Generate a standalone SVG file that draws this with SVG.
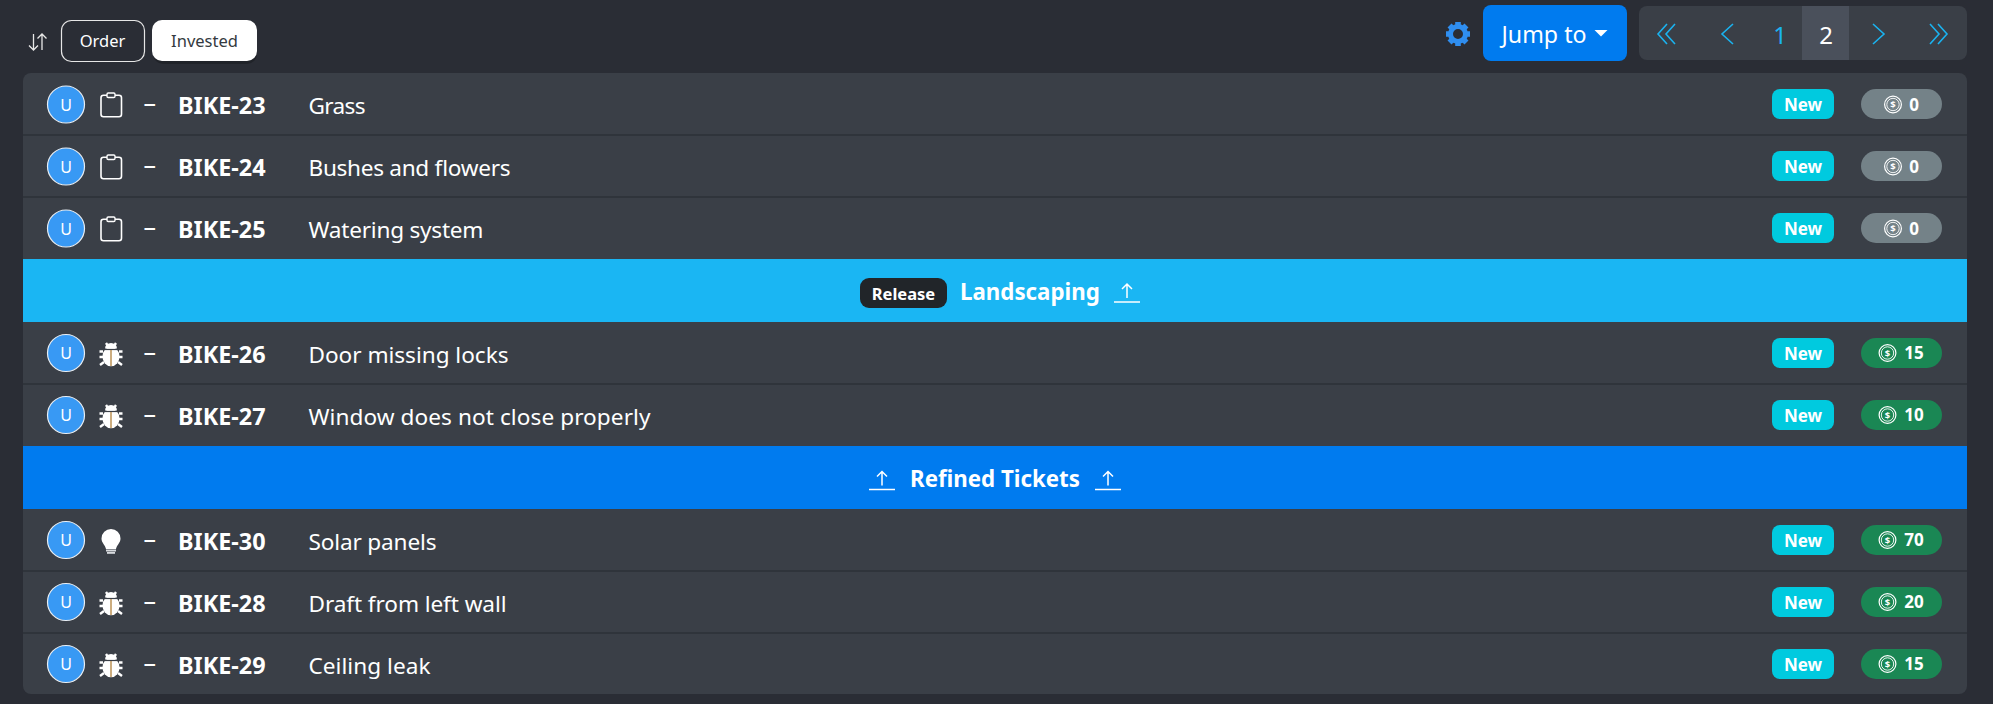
<svg xmlns="http://www.w3.org/2000/svg" xmlns:xlink="http://www.w3.org/1999/xlink" width="1993" height="704" viewBox="0 0 1993 704">
<style>
text{font-family:"Noto Sans","Open Sans","Liberation Sans",sans-serif;fill:#fff}
.av{fill:#3899f4;stroke:#e8eef4;stroke-width:1.2}
.avt{font-size:16px;text-anchor:middle}
.dash{font-size:25px}
.key{font-size:23.400px;font-weight:700}
.title{font-size:22.600px}
.new{fill:#00cadf}
.newt{font-size:17px;font-weight:700;text-anchor:middle}
.pts{font-size:17px;font-weight:700;text-anchor:middle}
.sep{fill:#2f343b}
.ban{font-size:22.300px;font-weight:700}
.ul{stroke:#fff;stroke-width:1.5;fill:none}
.blue{stroke:#1ab3f0;stroke-width:1.6;fill:none}
.ic{fill:none;stroke:#fff;stroke-width:1.6}
.grey{fill:#748288}
.green{fill:#1a8754}
</style>
<defs>
<g id="clip"><rect x="-10" y="-9.800" width="20.500" height="21.500" rx="2.500" class="ic"/><rect x="-4" y="-12" width="8" height="4.500" rx="1.200" fill="#3a3f47" stroke="#fff" stroke-width="1.400"/></g>
<g id="bug"><ellipse cx="0" cy="2" rx="8.500" ry="9.800" fill="#fff"/><path d="M-6-6a6 5.500 0 0 1 12 0z" fill="#fff"/><path d="M-5-11.500l2 3M5-11.500l-2 3M-8-3h-3.500M8-3h3.500M-8 2.500h-3.500M8 2.500h3.500M-7 7.500l-4 3M7 7.500l4 3" stroke="#fff" stroke-width="2.400" fill="none"/><path d="M-8-5h16" stroke="#3a3f47" stroke-width="1.200"/><path d="M0-4.500v16" stroke="#b78a4a" stroke-width="1.400"/></g>
<g id="bulb"><path d="M0-11a9.500 9.500 0 0 1 9.500 9.500c0 4.500-3.500 6-4.500 10.500h-10c-1-4.500-4.500-6-4.500-10.500A9.500 9.500 0 0 1 0-11z" fill="#fff"/><rect x="-5" y="9.500" width="10" height="2" fill="#d8dbdf"/><rect x="-4" y="12" width="8" height="1.800" fill="#d8dbdf"/></g>
<g id="coin"><circle r="8.400" fill="none" stroke="#fff" stroke-width="1.200"/><circle r="6.200" fill="none" stroke="#fff" stroke-width="0.900"/><text y="3.500" text-anchor="middle" style="font-size:9.500px;font-weight:700">$</text></g>
<g id="up"><path d="M0 1V-13M-5-8L0-13L5-8" class="ul"/><path d="M-13 5H13" class="ul"/></g>
</defs>
<rect width="1993" height="704" fill="#2a2d35"/>
<g id="toolbar">
<path d="M33.500 34V50M29 45.500L33.500 50L38 45.500M42 50V34M37.500 38.500L42 34L46.500 38.500" fill="none" stroke="#e8e8e8" stroke-width="1.300"/>
<g id="btn-order"><rect x="61.500" y="20.500" width="83" height="41" rx="10" fill="none" stroke="#e6e6e6" stroke-width="1.200"/><text x="102.500" y="47" font-size="16.500" text-anchor="middle">Order</text></g>
<g id="btn-invested"><rect x="153" y="23" width="104" height="41" rx="10" fill="#000" opacity=".22"/><rect x="152" y="20" width="105" height="41" rx="10" fill="#fff"/><text x="204.500" y="47" font-size="16.500" text-anchor="middle" style="fill:#343a40">Invested</text></g>
<g id="gear" transform="translate(1458 34)"><circle r="7.500" fill="none" stroke="#2f8ef0" stroke-width="5"/><path d="M-2.800-12h5.600v4h-5.600zM-2.800 8h5.600v4h-5.600zM-12-2.800v5.600h4v-5.600zM8-2.800v5.600h4v-5.600z" fill="#2f8ef0"/><path d="M-2.800-12h5.600v4h-5.600zM-2.800 8h5.600v4h-5.600zM-12-2.800v5.600h4v-5.600zM8-2.800v5.600h4v-5.600z" fill="#2f8ef0" transform="rotate(45)"/></g>
<g id="jump"><rect x="1483" y="5" width="144" height="56" rx="8" fill="#007bef"/><text x="1501.500" y="43" style="font-size:23.200px">Jump to</text><path d="M1594.500 30h13l-6.500 6.500z" fill="#fff"/></g>
<g id="pager"><rect x="1639" y="6" width="328" height="54" rx="8" fill="#3a3f47"/><rect x="1802" y="6" width="47" height="54" fill="#4a505b"/>
<path class="blue" d="M1667 24l-9 10 9 10M1675 24l-9 10 9 10"/>
<path class="blue" d="M1733 24l-11 10 11 10"/>
<text x="1780" y="44" style="font-size:24px;fill:#1ab3f0" text-anchor="middle">1</text>
<text x="1826" y="44" style="font-size:24px" text-anchor="middle">2</text>
<path class="blue" d="M1873 24l11 10-11 10"/>
<path class="blue" d="M1930 24l9 10-9 10M1938 24l9 10-9 10"/>
</g>
</g>
<g id="panel">
<path d="M23 81a8 8 0 0 1 8-8H1959a8 8 0 0 1 8 8V686a8 8 0 0 1-8 8H31a8 8 0 0 1-8-8z" fill="#3a3f47"/>
<rect class="sep" x="23" y="134" width="1944" height="2"/><rect class="sep" x="23" y="196" width="1944" height="2"/>
<rect class="sep" x="23" y="383" width="1944" height="2"/><rect class="sep" x="23" y="570" width="1944" height="2"/><rect class="sep" x="23" y="632" width="1944" height="2"/>
</g>
<g id="banner-landscaping"><rect x="23" y="259" width="1944" height="63" fill="#1ab6f3"/><rect x="860" y="278" width="87" height="30" rx="9" fill="#212529"/><text x="903.500" y="300" text-anchor="middle" style="font-size:16.500px;font-weight:700">Release</text><text x="960" y="300" class="ban">Landscaping</text><use xlink:href="#up" x="1127" y="297"/></g>
<g id="banner-refined"><rect x="23" y="446" width="1944" height="63" fill="#007bef"/><use xlink:href="#up" x="882" y="484.500"/><text x="910" y="487" class="ban">Refined Tickets</text><use xlink:href="#up" x="1108" y="484.500"/></g>
<g id="row-23"><circle class="av" cx="66" cy="104.500" r="18.500"/><text class="avt" x="66" y="110.500">U</text><use xlink:href="#clip" x="111" y="105"/><text class="dash" x="143.500" y="112">–</text><text class="key" x="178" y="114">BIKE-23</text><text class="title" x="308.500" y="114" textLength="57">Grass</text><rect class="new" x="1772" y="89" width="62" height="30" rx="8"/><text class="newt" x="1803" y="110.500">New</text><rect class="grey" x="1861" y="89" width="81" height="30" rx="15"/><use xlink:href="#coin" x="1893" y="104.500"/><text class="pts" x="1914" y="110.500">0</text></g>
<g id="row-24"><circle class="av" cx="66" cy="166.500" r="18.500"/><text class="avt" x="66" y="172.500">U</text><use xlink:href="#clip" x="111" y="167"/><text class="dash" x="143.500" y="174">–</text><text class="key" x="178" y="176">BIKE-24</text><text class="title" x="308.500" y="176" textLength="202">Bushes and flowers</text><rect class="new" x="1772" y="151" width="62" height="30" rx="8"/><text class="newt" x="1803" y="172.500">New</text><rect class="grey" x="1861" y="151" width="81" height="30" rx="15"/><use xlink:href="#coin" x="1893" y="166.500"/><text class="pts" x="1914" y="172.500">0</text></g>
<g id="row-25"><circle class="av" cx="66" cy="228.500" r="18.500"/><text class="avt" x="66" y="234.500">U</text><use xlink:href="#clip" x="111" y="229"/><text class="dash" x="143.500" y="236">–</text><text class="key" x="178" y="238">BIKE-25</text><text class="title" x="308.500" y="238" textLength="175">Watering system</text><rect class="new" x="1772" y="213" width="62" height="30" rx="8"/><text class="newt" x="1803" y="234.500">New</text><rect class="grey" x="1861" y="213" width="81" height="30" rx="15"/><use xlink:href="#coin" x="1893" y="228.500"/><text class="pts" x="1914" y="234.500">0</text></g>
<g id="row-26"><circle class="av" cx="66" cy="353" r="18.500"/><text class="avt" x="66" y="359">U</text><use xlink:href="#bug" x="111" y="354.500"/><text class="dash" x="143.500" y="361">–</text><text class="key" x="178" y="363">BIKE-26</text><text class="title" x="308.500" y="363" textLength="200">Door missing locks</text><rect class="new" x="1772" y="338" width="62" height="30" rx="8"/><text class="newt" x="1803" y="359.500">New</text><rect class="green" x="1861" y="338" width="81" height="30" rx="15"/><use xlink:href="#coin" x="1887.500" y="353"/><text class="pts" x="1914" y="359">15</text></g>
<g id="row-27"><circle class="av" cx="66" cy="415" r="18.500"/><text class="avt" x="66" y="421">U</text><use xlink:href="#bug" x="111" y="416.500"/><text class="dash" x="143.500" y="423">–</text><text class="key" x="178" y="425">BIKE-27</text><text class="title" x="308.500" y="425" textLength="342">Window does not close properly</text><rect class="new" x="1772" y="400" width="62" height="30" rx="8"/><text class="newt" x="1803" y="421.500">New</text><rect class="green" x="1861" y="400" width="81" height="30" rx="15"/><use xlink:href="#coin" x="1887.500" y="415"/><text class="pts" x="1914" y="421">10</text></g>
<g id="row-30"><circle class="av" cx="66" cy="540" r="18.500"/><text class="avt" x="66" y="546">U</text><use xlink:href="#bulb" x="111" y="540"/><text class="dash" x="143.500" y="548">–</text><text class="key" x="178" y="550">BIKE-30</text><text class="title" x="308.500" y="550" textLength="128">Solar panels</text><rect class="new" x="1772" y="525" width="62" height="30" rx="8"/><text class="newt" x="1803" y="546.500">New</text><rect class="green" x="1861" y="525" width="81" height="30" rx="15"/><use xlink:href="#coin" x="1887.500" y="540"/><text class="pts" x="1914" y="546">70</text></g>
<g id="row-28"><circle class="av" cx="66" cy="602" r="18.500"/><text class="avt" x="66" y="608">U</text><use xlink:href="#bug" x="111" y="603.500"/><text class="dash" x="143.500" y="610">–</text><text class="key" x="178" y="612">BIKE-28</text><text class="title" x="308.500" y="612" textLength="198">Draft from left wall</text><rect class="new" x="1772" y="587" width="62" height="30" rx="8"/><text class="newt" x="1803" y="608.500">New</text><rect class="green" x="1861" y="587" width="81" height="30" rx="15"/><use xlink:href="#coin" x="1887.500" y="602"/><text class="pts" x="1914" y="608">20</text></g>
<g id="row-29"><circle class="av" cx="66" cy="664" r="18.500"/><text class="avt" x="66" y="670">U</text><use xlink:href="#bug" x="111" y="665.500"/><text class="dash" x="143.500" y="672">–</text><text class="key" x="178" y="674">BIKE-29</text><text class="title" x="308.500" y="674" textLength="122">Ceiling leak</text><rect class="new" x="1772" y="649" width="62" height="30" rx="8"/><text class="newt" x="1803" y="670.500">New</text><rect class="green" x="1861" y="649" width="81" height="30" rx="15"/><use xlink:href="#coin" x="1887.500" y="664"/><text class="pts" x="1914" y="670">15</text></g>
</svg>
